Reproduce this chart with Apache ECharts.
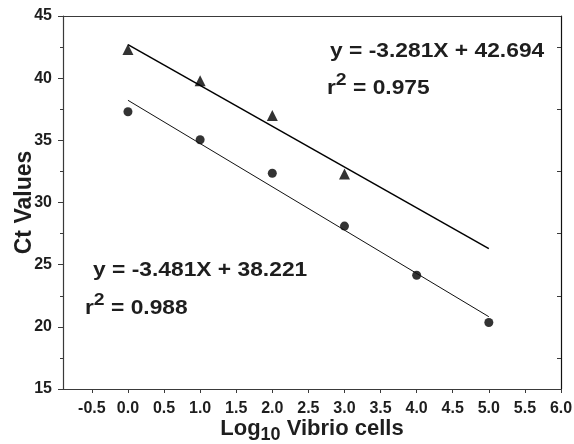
<!DOCTYPE html>
<html><head><meta charset="utf-8">
<script src="https://cdn.jsdelivr.net/npm/echarts@6/dist/echarts.min.js"></script>
<style>html,body{margin:0;padding:0;background:#fff}#c{width:574px;height:444px}</style>
</head><body><div id="c"></div>
<script>
// Data
const triangleX = [0, 1, 2, 3];
const triangleY = [42.3, 39.8, 37.0, 32.3];
const circleX = [0, 1, 2, 3, 4, 5];
const circleY = [37.3, 35.05, 32.35, 28.1, 24.15, 20.35];
const upperFitX = [0, 5];
const upperFitY = [42.694, 26.29];
const lowerFitX = [0, 5];
const lowerFitY = [38.221, 20.816];
const xTicks = [-0.5, 0, 0.5, 1, 1.5, 2, 2.5, 3, 3.5, 4, 4.5, 5, 5.5, 6];
const yRightTicks = [17.5, 22.5, 27.5, 32.5, 37.5, 42.5];
const upperEq = 'y = -3.281X + 42.694';
const upperR2 = '0.975';
const lowerEq = 'y = -3.481X + 38.221';
const lowerR2 = '0.988';

const zip = (a, b) => a.map((v, i) => [v, b[i]]);
const FONT = '"Liberation Sans", Arial, sans-serif';
const axisCol = '#3a3a3a';
const txtCol = '#1e1e1e';

const chart = echarts.init(document.getElementById('c'), null, {renderer: 'canvas'});
const eqStyle = {fontFamily: FONT, fontWeight: 'bold', fontSize: 20, fill: txtCol};
function r2Text(x, y, val) {
  return {
    type: 'text', x: x, y: y, scaleX: 1.14,
    style: {
      text: '{b|r}{s|2}{b| = ' + val + '}',
      fontFamily: FONT, fontWeight: 'bold', fill: txtCol,
      rich: {
        b: {fontFamily: FONT, fontWeight: 'bold', fontSize: 20, fill: txtCol, verticalAlign: 'bottom', lineHeight: 26},
        s: {fontFamily: FONT, fontWeight: 'bold', fontSize: 17, fill: txtCol, verticalAlign: 'top', lineHeight: 26}
      }
    }
  };
}
chart.setOption({
  animation: false,
  backgroundColor: '#fff',
  grid: {left: 63, right: 13, top: 16, bottom: 55, containLabel: false, outerBoundsMode: 'none'},
  xAxis: [{
    type: 'value', min: -0.9, max: 6, position: 'bottom',
    axisLine: {show: true, onZero: false, lineStyle: {color: axisCol, width: 1.2}},
    axisTick: {show: true, length: 4, customValues: xTicks, lineStyle: {color: axisCol}},
    axisLabel: {show: true, customValues: xTicks, margin: 12, formatter: v => v.toFixed(1),
      fontFamily: FONT, fontWeight: 'bold', fontSize: 16, color: txtCol},
    splitLine: {show: false},
    name: '{a|Log}{s|10}{a| Vibrio cells}',
    nameLocation: 'middle', nameGap: 29, nameMoveOverlap: false,
    nameTextStyle: {
      rich: {
        a: {fontFamily: FONT, fontWeight: 'bold', fontSize: 22, color: txtCol, verticalAlign: 'top', lineHeight: 26},
        s: {fontFamily: FONT, fontWeight: 'bold', fontSize: 18, color: txtCol, verticalAlign: 'bottom', lineHeight: 26}
      }
    }
  }, {
    type: 'value', min: -0.9, max: 6, position: 'top',
    axisLine: {show: true, onZero: false, lineStyle: {color: axisCol, width: 1.2}},
    axisTick: {show: false}, axisLabel: {show: false}, splitLine: {show: false}
  }],
  yAxis: [{
    type: 'value', min: 15, max: 45, interval: 5, position: 'left',
    axisLine: {show: true, onZero: false, lineStyle: {color: axisCol, width: 1.2}},
    axisTick: {show: true, length: 5, lineStyle: {color: axisCol}},
    minorTick: {show: true, splitNumber: 2, length: 3, lineStyle: {color: axisCol}},
    axisLabel: {margin: 11, fontFamily: FONT, fontWeight: 'bold', fontSize: 16, color: txtCol},
    splitLine: {show: false},
    name: 'Ct Values', nameLocation: 'middle', nameGap: 27, nameMoveOverlap: false,
    nameTextStyle: {fontFamily: FONT, fontWeight: 'bold', fontSize: 23, color: txtCol}
  }, {
    type: 'value', min: 15, max: 45, position: 'right',
    axisLine: {show: true, onZero: false, lineStyle: {color: '#111', width: 1.2}},
    axisTick: {show: true, inside: true, length: 4, customValues: yRightTicks, lineStyle: {color: axisCol}},
    axisLabel: {show: false}, splitLine: {show: false}
  }],
  series: [{
    type: 'line', data: zip(upperFitX, upperFitY), showSymbol: false, symbol: 'none',
    lineStyle: {color: '#000', width: 1.5}, silent: true
  }, {
    type: 'line', data: zip(lowerFitX, lowerFitY), showSymbol: false, symbol: 'none',
    lineStyle: {color: '#111', width: 1}, silent: true
  }, {
    type: 'scatter', data: zip(triangleX, triangleY), symbol: 'triangle', symbolSize: 11,
    itemStyle: {color: '#000'}
  }, {
    type: 'scatter', data: zip(circleX, circleY), symbol: 'circle', symbolSize: 9,
    itemStyle: {color: '#000'}
  }],
  graphic: [
    {type: 'text', x: 330, y: 51.5, scaleX: 1.14, style: Object.assign({text: upperEq, verticalAlign: 'middle'}, eqStyle)},
    r2Text(327, 72, upperR2),
    {type: 'text', x: 93, y: 270, scaleX: 1.14, style: Object.assign({text: lowerEq, verticalAlign: 'middle'}, eqStyle)},
    r2Text(85, 292, lowerR2)
  ]
});
</script></body></html>
